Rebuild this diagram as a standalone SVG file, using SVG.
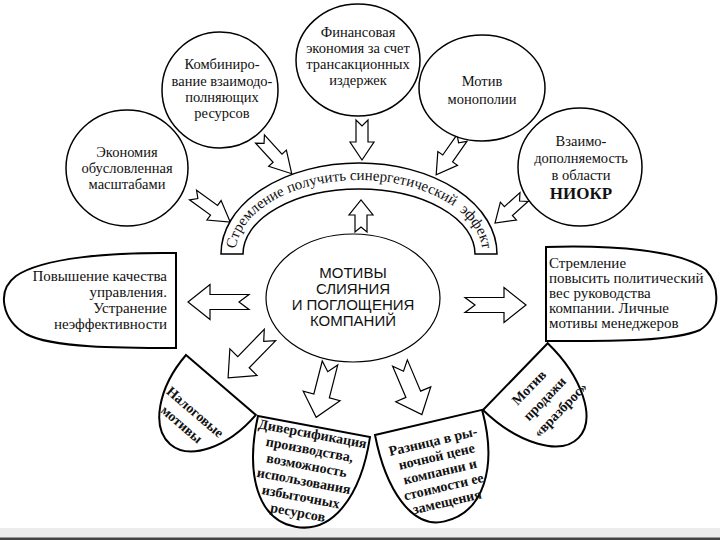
<svg xmlns="http://www.w3.org/2000/svg" width="720" height="540" viewBox="0 0 720 540" font-family="Liberation Serif, serif">
<style>
.sh{fill:#fff;stroke:#000;stroke-width:1.5}
.bs{fill:#fff;stroke:#000;stroke-width:2}
.ar{fill:#fff;stroke:#000;stroke-width:1.2}
.t{font-family:Liberation Serif,serif;font-size:14.5px;fill:#111;text-anchor:middle}
.tb{font-family:Liberation Serif,serif;font-size:14px;font-weight:bold;fill:#111;text-anchor:middle}
.tl{font-family:Liberation Serif,serif;font-size:15px;fill:#111}
.tc{font-family:Liberation Sans,sans-serif;font-size:15px;fill:#111;text-anchor:middle}
</style>
<defs>
<path id="arcTxt" d="M235.5,254 A123.5,74 0 0 1 482.5,254"/>
</defs>
<rect x="0" y="0" width="720" height="540" fill="#fff"/>
<rect x="0" y="528" width="720" height="10" fill="#ececec"/>
<rect x="0" y="537.5" width="720" height="2.5" fill="#444"/>

<g id="connectors">
<path class="ar" d="M0,-6 L22,-6 L22,-12 L40,0 L22,12 L22,6 L0,6 L6,0 Z" transform="translate(362,120) rotate(90)"/>
<path class="ar" d="M0,-6 L26,-6 L26,-12 L47,0 L26,12 L26,6 L0,6 L6,0 Z" transform="translate(260,139) rotate(47.6)"/>
<path class="ar" d="M0,-6 L26,-6 L26,-12 L46,0 L26,12 L26,6 L0,6 L6,0 Z" transform="translate(193,195) rotate(36)"/>
<path class="ar" d="M0,-6 L25,-6 L25,-12 L45,0 L25,12 L25,6 L0,6 L6,0 Z" transform="translate(462,138) rotate(125)"/>
<path class="ar" d="M0,-6 L21,-6 L21,-12 L39,0 L21,12 L21,6 L0,6 L6,0 Z" transform="translate(524,197) rotate(138)"/>
<path class="ar" d="M0,-6 L17,-6 L17,-12 L32,0 L17,12 L17,6 L0,6 L5,0 Z" transform="translate(361,232) rotate(-90)"/>
<path class="ar" d="M0,-7.5 L39,-7.5 L39,-17.5 L61,0 L39,17.5 L39,7.5 L0,7.5 L10,0 Z" transform="translate(249,302) rotate(180)"/>
<path class="ar" d="M0,-7.5 L39,-7.5 L39,-17.5 L61,0 L39,17.5 L39,7.5 L0,7.5 L10,0 Z" transform="translate(465,305)"/>
<path class="ar" d="M0,-8 L38,-8 L38,-19 L60,0 L38,19 L38,8 L0,8 L9,0 Z" transform="translate(270,335) rotate(134.3)"/>
<path class="ar" d="M0,-8 L34,-8 L34,-19 L56,0 L34,19 L34,8 L0,8 L9,0 Z" transform="translate(330,363) rotate(104.3)"/>
<path class="ar" d="M0,-8 L34,-8 L34,-19 L56,0 L34,19 L34,8 L0,8 L9,0 Z" transform="translate(400,363) rotate(67)"/>
</g>

<g id="n-scale">
<ellipse class="sh" cx="127" cy="168" rx="61" ry="58"/>
<text class="t" x="127" y="157">Экономия</text>
<text class="t" x="127" y="173">обусловленная</text>
<text class="t" x="127" y="189">масштабами</text>
</g>
<g id="n-combine">
<ellipse class="sh" cx="220" cy="90" rx="58" ry="58"/>
<text class="t" x="222" y="69">Комбиниро-</text>
<text class="t" x="222" y="86">вание взаимодо-</text>
<text class="t" x="222" y="102">полняющих</text>
<text class="t" x="222" y="118">ресурсов</text>
</g>
<g id="n-finance">
<ellipse class="sh" cx="358" cy="60" rx="62" ry="56"/>
<text class="t" x="358" y="37">Финансовая</text>
<text class="t" x="358" y="53">экономия за счет</text>
<text class="t" x="358" y="69">трансакционных</text>
<text class="t" x="358" y="85">издержек</text>
</g>
<g id="n-monopoly">
<ellipse class="sh" cx="482" cy="88" rx="63" ry="53"/>
<text class="t" x="482" y="86">Мотив</text>
<text class="t" x="482" y="104">монополии</text>
</g>
<g id="n-rnd">
<ellipse class="sh" cx="580" cy="167" rx="62" ry="59"/>
<text class="t" x="581" y="146">Взаимо-</text>
<text class="t" x="581" y="163">дополняемость</text>
<text class="t" x="581" y="180">в области</text>
<text class="t" x="581" y="199" font-weight="bold" style="font-size:17px">НИОКР</text>
</g>

<g id="n-synergy">
<path class="sh" d="M221,254 A138,91 0 0 1 497,254 L475,254 A116,65 0 0 0 243,254 Z"/>
<text class="tl"><textPath href="#arcTxt" startOffset="5" textLength="305" lengthAdjust="spacing">Стремление получить синергетический&#160; эффект</textPath></text>
</g>

<g id="n-center">
<ellipse class="sh" cx="353" cy="298" rx="87" ry="64" style="stroke-width:1.2"/>
<text class="tc" x="353" y="278">МОТИВЫ</text>
<text class="tc" x="353" y="294">СЛИЯНИЯ</text>
<text class="tc" x="353" y="310">И ПОГЛОЩЕНИЯ</text>
<text class="tc" x="353" y="326">КОМПАНИЙ</text>
</g>

<g id="n-management">
<path class="bs" d="M176,253 C110,252 42,258 16,276 C-4,291 2,320 26,334 C52,348 120,348 176,348 Z"/>
<text class="tl" x="167" y="281" text-anchor="end">Повышение качества</text>
<text class="tl" x="167" y="297" text-anchor="end">управления.</text>
<text class="tl" x="167" y="313" text-anchor="end">Устранение</text>
<text class="tl" x="167" y="329" text-anchor="end">неэффективности</text>
</g>

<g id="n-political">
<path class="bs" d="M546,247 C612,245 682,250 706,270 C722,288 719,318 700,330 C672,342 605,341 546,341 Z"/>
<text class="tl" x="549" y="268">Стремление</text>
<text class="tl" x="549" y="283">повысить политический</text>
<text class="tl" x="549" y="298">вес руководства</text>
<text class="tl" x="549" y="313">компании. Личные</text>
<text class="tl" x="549" y="328">мотивы менеджеров</text>
</g>

<g id="n-tax" transform="translate(186,355) rotate(40.6)">
<path class="bs" d="M0,0 L92,0 A46,78 0 0 1 0,0 Z"/>
<text class="tb" x="44" y="42">Налоговые</text>
<text class="tb" x="42" y="60">мотивы</text>
</g>

<g id="n-diversification" transform="translate(258,416) rotate(10.6)">
<path class="bs" d="M0,0 L114,0 C116,60 95,102 57,102 C19,102 -2,60 0,0 Z"/>
<text class="tb" x="57" y="12">Диверсификация</text>
<text class="tb" x="57" y="28">производства,</text>
<text class="tb" x="57" y="44">возможность</text>
<text class="tb" x="57" y="60">использования</text>
<text class="tb" x="57" y="76">избыточных</text>
<text class="tb" x="57" y="92">ресурсов</text>
</g>

<g id="n-price" transform="translate(375,435) rotate(-13.2)">
<path class="bs" d="M0,0 L110,0 C112,60 88,100 48,100 C14,100 -2,55 0,0 Z"/>
<text class="tb" x="55" y="24">Разница в ры-</text>
<text class="tb" x="55" y="39.5">ночной цене</text>
<text class="tb" x="55" y="55">компании и</text>
<text class="tb" x="55" y="70.5">стоимости ее</text>
<text class="tb" x="55" y="86">замещения</text>
</g>

<g id="n-sale" transform="translate(483,410) rotate(-45.9)">
<path class="bs" d="M0,0 L93,0 A46.5,88 0 0 1 0,0 Z"/>
<text class="tb" x="48" y="22">Мотив</text>
<text class="tb" x="51" y="41">продажи</text>
<text class="tb" x="54" y="60">«вразброс»</text>
</g>
</svg>
